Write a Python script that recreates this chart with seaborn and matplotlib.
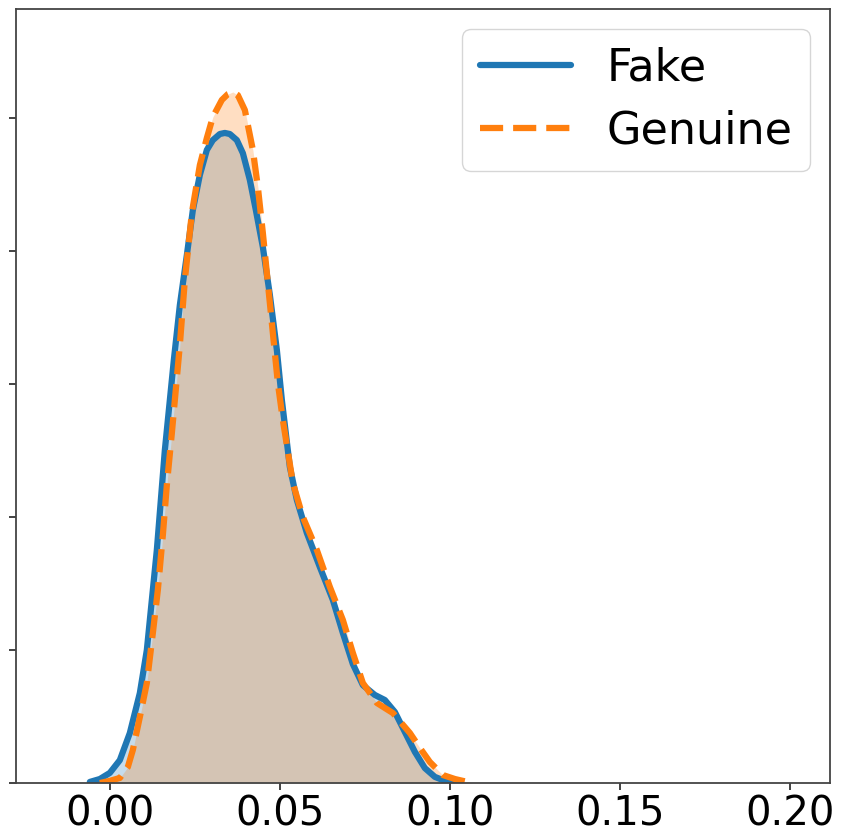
import matplotlib
matplotlib.use("Agg")
import matplotlib.pyplot as plt
import seaborn as sns
import pandas as pd

# Density curves
fake_x = [-0.00588, -0.00294, 0.0, 0.00294, 0.00588, 0.00882, 0.01088, 0.01235, 0.01382,
          0.01500, 0.01618, 0.01765, 0.01882, 0.02059, 0.02265, 0.02441, 0.02647, 0.02853,
          0.03029, 0.03235, 0.03382, 0.03529, 0.03735, 0.03912, 0.04118, 0.04294, 0.04500,
          0.04706, 0.04912, 0.05059, 0.05294, 0.05500, 0.05794, 0.06176, 0.06559, 0.06853,
          0.07147, 0.07441, 0.07794, 0.08088, 0.08382, 0.08676, 0.08971, 0.09265, 0.09559,
          0.09853, 0.10147]
fake_y = [0.04, 0.15, 0.38, 0.86, 1.88, 3.38, 5.00, 6.88, 8.76,
          10.64, 12.52, 14.40, 15.90, 17.97, 19.85, 21.54, 22.86, 23.80,
          24.17, 24.40, 24.44, 24.40, 24.17, 23.68, 22.67, 21.54, 20.15,
          18.35, 16.28, 14.40, 11.88, 10.64, 9.40, 8.12, 6.88, 5.64,
          4.47, 3.68, 3.31, 3.12, 2.67, 1.92, 1.17, 0.56, 0.23,
          0.08, 0.0]

genuine_x = [-0.00294, 0.0, 0.00294, 0.00529, 0.00676, 0.00882, 0.01088, 0.01265, 0.01412,
             0.01559, 0.01676, 0.01824, 0.01912, 0.02059, 0.02206, 0.02412, 0.02647, 0.02853,
             0.03029, 0.03294, 0.03471, 0.03618, 0.03765, 0.03971, 0.04206, 0.04353, 0.04500,
             0.04647, 0.04794, 0.04941, 0.05088, 0.05382, 0.05676, 0.06088, 0.06471, 0.06853,
             0.07147, 0.07441, 0.07853, 0.08324, 0.08824, 0.09118, 0.09412, 0.09794, 0.10147,
             0.10382, 0.10676]
genuine_y = [0.0, 0.08, 0.19, 0.60, 1.24, 2.48, 3.76, 5.64, 7.26,
             9.32, 11.20, 13.16, 14.40, 16.47, 18.91, 21.43, 23.23, 24.25,
             25.04, 25.68, 25.90, 25.98, 25.86, 25.30, 23.80, 22.41, 20.68,
             18.80, 16.92, 15.04, 13.65, 11.28, 10.00, 8.76, 7.37, 6.13,
             4.89, 3.76, 3.01, 2.63, 1.88, 1.32, 0.79, 0.30, 0.15,
             0.08, 0.0]

x_ticks = [0.00, 0.05, 0.10, 0.15, 0.20]
x_tick_labels = ["0.00", "0.05", "0.10", "0.15", "0.20"]
y_ticks = [0, 5, 10, 15, 20, 25]
labels = ["Fake", "Genuine"]

sns.set_style("ticks")
plt.rcParams['font.family'] = ['DejaVu Sans']
plt.rcParams['text.color'] = 'black'

fig = plt.figure(figsize=(8.41, 8.34), dpi=100)
ax = fig.add_axes([16 / 841, 1 - 783 / 834, (830 - 16) / 841, (783 - 9) / 834])

blue = "#1f77b4"
orange = "#ff7f0e"

df_fake = pd.DataFrame({"x": fake_x, "y": fake_y})
df_gen = pd.DataFrame({"x": genuine_x, "y": genuine_y})

ax.fill_between(df_fake["x"], df_fake["y"], 0, color=blue, alpha=0.25, linewidth=0)
sns.lineplot(data=df_fake, x="x", y="y", ax=ax, color=blue, linewidth=4.5,
             label=labels[0], sort=False)
ax.fill_between(df_gen["x"], df_gen["y"], 0, color=orange, alpha=0.25, linewidth=0)
sns.lineplot(data=df_gen, x="x", y="y", ax=ax, color=orange, linewidth=4.5,
             linestyle="--", label=labels[1], sort=False)

for ln in ax.get_lines():
    ln.set_solid_joinstyle("round")
    ln.set_dash_joinstyle("round")

ax.set_xlim(-0.0276, 0.2118)
ax.set_ylim(0, 29.1)
ax.set_xticks(x_ticks)
ax.set_xticklabels(x_tick_labels, fontsize=29)
ax.set_yticks(y_ticks)
ax.set_yticklabels([])
ax.set_xlabel("")
ax.set_ylabel("")
ax.tick_params(axis="both", length=5, width=1.2, color="#222222", labelcolor="black")
ax.tick_params(axis="x", pad=3)
for s in ax.spines.values():
    s.set_color("#444444")
    s.set_linewidth(1.3)

leg = ax.legend(loc="upper right", fontsize=32, handlelength=2.05, frameon=True,
                fancybox=True, labelspacing=0.45, handletextpad=0.8, borderaxespad=0.45)
leg.get_frame().set_edgecolor("#cccccc")
leg.get_frame().set_linewidth(1.0)
for t in leg.get_texts():
    t.set_color("black")

fig.savefig("out.png", dpi=100)
